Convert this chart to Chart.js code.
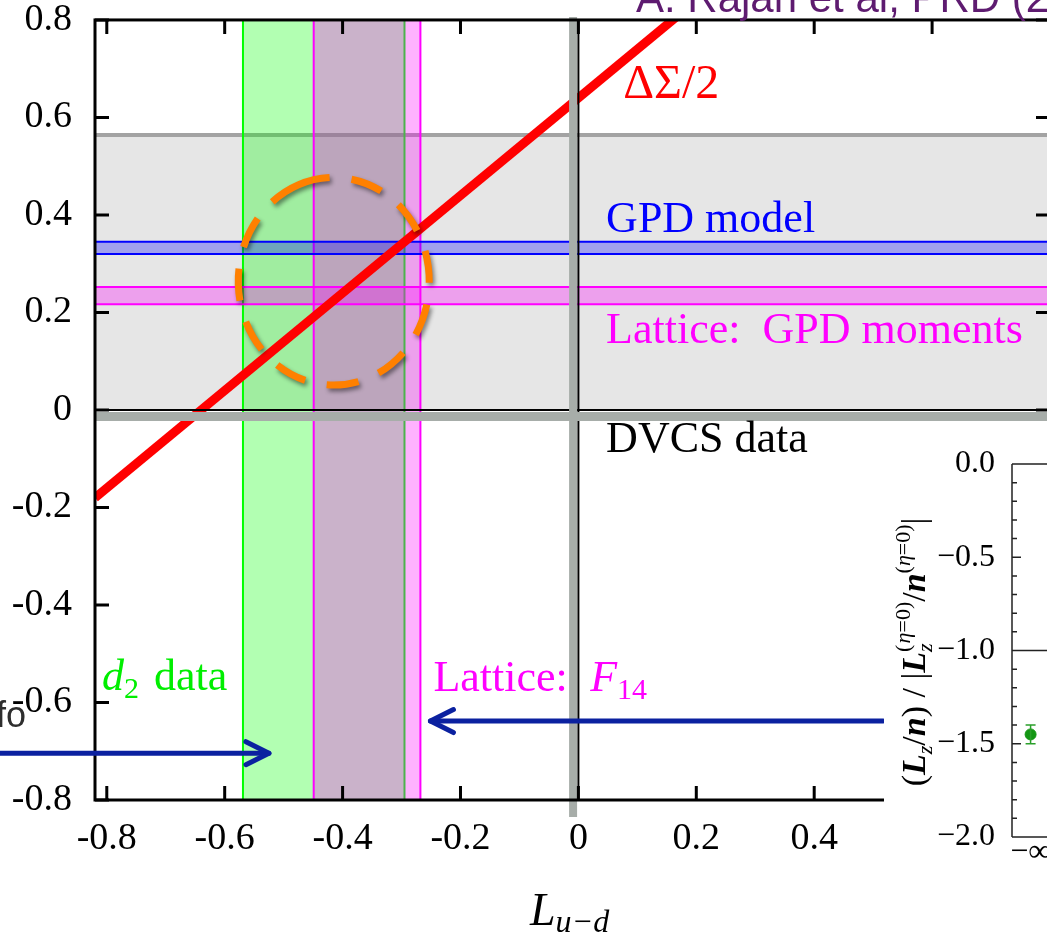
<!DOCTYPE html>
<html><head><meta charset="utf-8">
<script src="https://cdn.jsdelivr.net/npm/chart.js@4.4.1/dist/chart.umd.min.js"></script>
<style>
html,body{margin:0;padding:0;width:1047px;height:936px;overflow:hidden;background:#fff;}
#main{position:absolute;left:0;top:0;}
#insetWrap{position:absolute;left:884px;top:423px;width:220px;height:513px;background:#fff;}
#inset{position:absolute;left:0;top:0;}
</style></head><body>
<canvas id="main" width="1100" height="936"></canvas>
<div id="insetWrap"><canvas id="inset" width="220" height="513"></canvas></div>
<script>
// ---------- data ----------
const xTickValues = [-0.8, -0.6, -0.4, -0.2, 0, 0.2, 0.4];
const xTickLabels = ['-0.8', '-0.6', '-0.4', '-0.2', '0', '0.2', '0.4'];
const yTickValues = [-0.8, -0.6, -0.4, -0.2, 0, 0.2, 0.4, 0.6, 0.8];
const yTickLabels = ['-0.8', '-0.6', '-0.4', '-0.2', '0', '0.2', '0.4', '0.6', '0.8'];
const xRange = [-0.82, 0.8];
const yRange = [-0.8, 0.8];
const deltaSigmaX = [-0.82, 0.2];
const deltaSigmaY = [-0.18, 0.84];
const dvcsBand = [0, 0.564];
const gpdModelBand = [0.320, 0.345];
const latticeGpdBand = [0.217, 0.252];
const d2Band = [-0.569, -0.295];
const latticeF14Band = [-0.449, -0.268];
const crossLineX = -0.009;
const crossLineY = -0.0133;
const focusCenter = [-0.415, 0.264];
const focusRadii = [0.162, 0.213];
const arrowRight = [[-0.98, -0.704], [-0.525, -0.704]];
const arrowLeft = [[0.517, -0.638], [-0.251, -0.638]];
const insetCategories = ['−∞'];
const insetValues = [-1.45];
const insetErrors = [0.05];
const insetTickValues = [0, -0.5, -1, -1.5, -2];
const insetTickLabels = ['0.0', '−0.5', '−1.0', '−1.5', '−2.0'];

// ---------- helpers ----------
const SERIF = '"Liberation Serif", "Times New Roman", serif';
const SANS = '"Liberation Sans", Arial, sans-serif';
const fnt = (size, style) => (style ? style + ' ' : '') + size + 'px ' + SERIF;

function drawRuns(ctx, runs, x, y, measureOnly) {
  let cx = x, pend = 0;
  for (const r of runs) {
    ctx.font = r.f;
    const w = ctx.measureText(r.t).width;
    if (!measureOnly) {
      if (r.c) ctx.fillStyle = r.c;
      ctx.fillText(r.t, cx + (r.dx || 0), y + (r.dy || 0));
    }
    if (r.keep) { pend = Math.max(pend, w); }
    else { cx += Math.max(w, pend); pend = 0; }
  }
  return cx - x;
}

function arrow(ctx, x0, y0, x1, y1, color) {
  ctx.save();
  ctx.strokeStyle = color; ctx.lineWidth = 5; ctx.lineCap = 'round'; ctx.lineJoin = 'round';
  ctx.beginPath(); ctx.moveTo(x0, y0); ctx.lineTo(x1, y1); ctx.stroke();
  const ang = Math.atan2(y1 - y0, x1 - x0);
  const L = 23, H = 11.5;
  const bx = x1 - L * Math.cos(ang), by = y1 - L * Math.sin(ang);
  const nx = -Math.sin(ang), ny = Math.cos(ang);
  ctx.beginPath();
  ctx.moveTo(bx + nx * H, by + ny * H); ctx.lineTo(x1, y1); ctx.lineTo(bx - nx * H, by - ny * H);
  ctx.stroke();
  ctx.restore();
}

// ---------- main chart decoration plugin ----------
const mainDecor = {
  id: 'mainDecor',
  beforeDatasetsDraw(chart) {
    const { ctx, chartArea: a, scales } = chart;
    const X = v => scales.x.getPixelForValue(v), Y = v => scales.y.getPixelForValue(v);
    ctx.save();
    ctx.beginPath(); ctx.rect(a.left, a.top, a.right - a.left, a.bottom - a.top); ctx.clip();
    // DVCS band
    ctx.fillStyle = '#e6e6e6';
    ctx.fillRect(a.left, Y(dvcsBand[1]), a.right - a.left, Y(dvcsBand[0]) - Y(dvcsBand[1]));
    ctx.strokeStyle = '#a3a3a3'; ctx.lineWidth = 4;
    ctx.beginPath(); ctx.moveTo(a.left, Y(dvcsBand[1])); ctx.lineTo(a.right, Y(dvcsBand[1])); ctx.stroke();
    const vband = (b, fill, stroke) => {
      const l = X(b[0]), r = X(b[1]);
      ctx.fillStyle = fill; ctx.fillRect(l, a.top, r - l, a.bottom - a.top);
      ctx.strokeStyle = stroke; ctx.lineWidth = 2;
      ctx.beginPath(); ctx.moveTo(l, a.top); ctx.lineTo(l, a.bottom); ctx.moveTo(r, a.top); ctx.lineTo(r, a.bottom); ctx.stroke();
    };
    const hband = (b, fill, stroke) => {
      const t = Y(b[1]), bt = Y(b[0]);
      ctx.fillStyle = fill; ctx.fillRect(a.left, t, a.right - a.left, bt - t);
      ctx.strokeStyle = stroke; ctx.lineWidth = 2;
      ctx.beginPath(); ctx.moveTo(a.left, t); ctx.lineTo(a.right, t); ctx.moveTo(a.left, bt); ctx.lineTo(a.right, bt); ctx.stroke();
    };
    vband(d2Band, 'rgba(0,255,0,0.3)', '#00ff00');
    vband(latticeF14Band, 'rgba(255,0,255,0.3)', '#ff00ff');
    hband(gpdModelBand, 'rgba(0,0,255,0.3)', '#0000ff');
    hband(latticeGpdBand, 'rgba(255,0,255,0.3)', '#ff00ff');
    ctx.restore();
  },
  afterDatasetsDraw(chart) {
    const { ctx, chartArea: a, scales } = chart;
    const X = v => scales.x.getPixelForValue(v), Y = v => scales.y.getPixelForValue(v);
    ctx.save();
    // zero lines
    ctx.strokeStyle = '#000'; ctx.lineWidth = 2;
    ctx.beginPath();
    ctx.moveTo(X(0), a.top); ctx.lineTo(X(0), a.bottom);
    ctx.moveTo(a.left, Y(0)); ctx.lineTo(a.right, Y(0));
    ctx.stroke();
    // gray cross lines
    ctx.strokeStyle = '#a7ada9';
    ctx.lineWidth = 8;
    ctx.beginPath(); ctx.moveTo(X(crossLineX), a.top - 3); ctx.lineTo(X(crossLineX), a.bottom + 17); ctx.stroke();
    ctx.lineWidth = 9;
    ctx.beginPath(); ctx.moveTo(a.left, Y(crossLineY)); ctx.lineTo(a.right, Y(crossLineY)); ctx.stroke();
    // frame
    ctx.strokeStyle = '#000'; ctx.lineWidth = 3;
    ctx.strokeRect(a.left, a.top, a.right - a.left, a.bottom - a.top);
    // inward ticks
    ctx.lineWidth = 3;
    ctx.beginPath();
    for (const v of xTickValues.concat([0.6])) {
      const p = X(v);
      ctx.moveTo(p, a.bottom); ctx.lineTo(p, a.bottom - 14);
      ctx.moveTo(p, a.top); ctx.lineTo(p, a.top + 14);
    }
    for (const v of yTickValues) {
      const p = Y(v);
      ctx.moveTo(a.left, p); ctx.lineTo(a.left + 14, p);
      ctx.moveTo(a.right, p); ctx.lineTo(a.right - 14, p);
    }
    ctx.stroke();
    // orange dashed ellipse
    ctx.save();
    const cx = X(focusCenter[0]), cy = Y(focusCenter[1]);
    const rx = X(focusCenter[0] + focusRadii[0]) - cx, ry = cy - Y(focusCenter[1] + focusRadii[1]);
    ctx.shadowColor = 'rgba(0,0,0,0.45)'; ctx.shadowBlur = 4; ctx.shadowOffsetX = 2; ctx.shadowOffsetY = 3;
    ctx.strokeStyle = '#ff8000'; ctx.lineWidth = 7; ctx.setLineDash([32, 22]);
    ctx.beginPath(); ctx.ellipse(cx, cy, rx, ry, 0, -Math.PI * 0.62, Math.PI * 1.38); ctx.stroke();
    ctx.restore();
    // arrows
    arrow(ctx, X(arrowRight[0][0]), Y(arrowRight[0][1]), X(arrowRight[1][0]), Y(arrowRight[1][1]), '#0b21a0');
    arrow(ctx, X(arrowLeft[0][0]), Y(arrowLeft[0][1]), X(arrowLeft[1][0]), Y(arrowLeft[1][1]), '#0b21a0');
    // labels
    ctx.textAlign = 'left'; ctx.textBaseline = 'alphabetic';
    ctx.fillStyle = '#ff0000'; ctx.font = fnt(48);
    ctx.fillText('ΔΣ/2', X(0.076), Y(0.640));
    ctx.fillStyle = '#0000ff'; ctx.font = fnt(44);
    ctx.fillText('GPD model', X(0.047), Y(0.365));
    ctx.fillStyle = '#ff00ff';
    ctx.fillText('Lattice:  GPD moments', X(0.047), Y(0.137));
    ctx.fillStyle = '#000';
    ctx.fillText('DVCS data', X(0.047), Y(-0.086));
    // d2 data
    ctx.fillStyle = '#00ee00';
    drawRuns(ctx, [
      { t: 'd', f: fnt(44, 'italic') },
      { t: '2', f: fnt(30), dy: 8 }
    ], X(-0.808), Y(-0.574));
    ctx.font = fnt(44);
    ctx.fillText('data', X(-0.72), Y(-0.574));
    // Lattice: F14
    ctx.fillStyle = '#ff00ff';
    ctx.font = fnt(44);
    ctx.fillText('Lattice:', X(-0.246), Y(-0.576));
    drawRuns(ctx, [
      { t: 'F', f: fnt(44, 'italic') },
      { t: '14', f: fnt(30), dy: 8 }
    ], X(0.02), Y(-0.576));
    // axis title
    ctx.fillStyle = '#000';
    drawRuns(ctx, [
      { t: 'L', f: fnt(46, 'italic') },
      { t: 'u−d', f: fnt(32, 'italic'), dy: 7 }
    ], 530, 925);
    // top citation (cut off)
    ctx.fillStyle = '#5e1b70'; ctx.font = '42px ' + SANS;
    ctx.fillText('A. Rajan et al, PRD (2018)', 636, 12);
    // partial text at left edge
    ctx.fillStyle = '#2e2e2e'; ctx.font = '36px ' + SANS; ctx.textAlign = 'right';
    ctx.fillText('fo', 26, 727);
    ctx.restore();
  }
};

new Chart(document.getElementById('main'), {
  type: 'scatter',
  data: {
    datasets: [{
      label: 'ΔΣ/2',
      data: deltaSigmaX.map((x, i) => ({ x, y: deltaSigmaY[i] })),
      showLine: true,
      borderColor: '#ff0000',
      borderWidth: 9,
      pointRadius: 0,
      clip: 0
    }]
  },
  options: {
    responsive: false,
    animation: false,
    events: [],
    layout: { padding: { top: 0, right: 50, bottom: 0, left: 0 } },
    plugins: { legend: { display: false }, tooltip: { enabled: false }, title: { display: false } },
    scales: {
      x: {
        type: 'linear', min: xRange[0], max: xRange[1],
        afterBuildTicks: s => { s.ticks = xTickValues.map(v => ({ value: v })); },
        afterFit: s => { s.height = 136; },
        ticks: {
          callback: v => xTickLabels[xTickValues.indexOf(v)],
          font: { family: SERIF, size: 38, lineHeight: 1.2 }, color: '#000', padding: 8, maxRotation: 0, autoSkip: false
        },
        grid: { display: false }, border: { display: false }
      },
      y: {
        type: 'linear', min: yRange[0], max: yRange[1],
        afterBuildTicks: s => { s.ticks = yTickValues.map(v => ({ value: v })); },
        afterFit: s => { s.width = 95; },
        ticks: {
          callback: v => yTickLabels[yTickValues.indexOf(v)],
          font: { family: SERIF, size: 38, lineHeight: 1.05 }, color: '#000', padding: 0, autoSkip: false
        },
        grid: { display: true, drawOnChartArea: false, drawTicks: true, tickLength: 23, color: 'rgba(0,0,0,0)' },
        border: { display: false }
      }
    }
  },
  plugins: [mainDecor]
});

// ---------- inset ----------
const insetDecor = {
  id: 'insetDecor',
  afterDatasetsDraw(chart) {
    const { ctx, chartArea: a, scales } = chart;
    const X = v => scales.x.getPixelForValue(v), Y = v => scales.y.getPixelForValue(v);
    ctx.save();
    ctx.strokeStyle = '#222'; ctx.lineWidth = 1.5;
    ctx.beginPath();
    ctx.moveTo(a.left, a.top); ctx.lineTo(a.left, a.bottom);
    ctx.moveTo(a.left, Y(0)); ctx.lineTo(a.right, Y(0));
    ctx.moveTo(a.left, Y(-1)); ctx.lineTo(a.right, Y(-1));
    ctx.moveTo(a.left, Y(-2)); ctx.lineTo(a.right, Y(-2));
    for (let k = 0; k <= 20; k++) {
      const p = Y(-k / 10), len = (k % 5 === 0) ? 9 : 5;
      ctx.moveTo(a.left, p); ctx.lineTo(a.left + len, p);
    }
    ctx.stroke();
    // error bars
    ctx.strokeStyle = '#2a9f2a'; ctx.lineWidth = 1.5;
    ctx.beginPath();
    insetValues.forEach((v, i) => {
      const px = X(i), t = Y(v + insetErrors[i]), b = Y(v - insetErrors[i]);
      ctx.moveTo(px, t); ctx.lineTo(px, b);
      ctx.moveTo(px - 5, t); ctx.lineTo(px + 5, t);
      ctx.moveTo(px - 5, b); ctx.lineTo(px + 5, b);
    });
    ctx.stroke();
    ctx.restore();
    // rotated y title
    const runs = [
      { t: '(', f: fnt(34) },
      { t: 'L', f: fnt(34, 'italic bold') },
      { t: 'z', f: fnt(22, 'italic'), dy: 7 },
      { t: '/', f: fnt(34) },
      { t: 'n', f: fnt(34, 'italic bold') },
      { t: ') / |', f: fnt(34) },
      { t: 'L', f: fnt(34, 'italic bold') },
      { t: 'z', f: fnt(22, 'italic'), dy: 7, keep: true },
      { t: '(', f: fnt(22), dy: -15 },
      { t: 'η', f: fnt(22, 'italic'), dy: -15 },
      { t: '=0)', f: fnt(22), dy: -15 },
      { t: '/', f: fnt(34) },
      { t: 'n', f: fnt(34, 'italic bold') },
      { t: '(', f: fnt(22), dy: -15 },
      { t: 'η', f: fnt(22, 'italic'), dy: -15 },
      { t: '=0)', f: fnt(22), dy: -15 },
      { t: '|', f: fnt(34) }
    ];
    ctx.save();
    ctx.fillStyle = '#000'; ctx.textAlign = 'left'; ctx.textBaseline = 'alphabetic';
    const w = drawRuns(ctx, runs, 0, 0, true);
    ctx.translate(41, 229);
    ctx.rotate(-Math.PI / 2);
    drawRuns(ctx, runs, -w / 2, 0);
    ctx.restore();
  }
};

const insetFont = { family: SERIF, size: 32, lineHeight: 1 };

new Chart(document.getElementById('inset'), {
  type: 'scatter',
  data: {
    datasets: [{
      data: insetValues.map((y, i) => ({ x: i, y })),
      pointRadius: 5.5,
      pointBackgroundColor: '#149614',
      pointBorderColor: '#149614',
      showLine: false
    }]
  },
  options: {
    responsive: false,
    animation: false,
    events: [],
    layout: { padding: { top: 41, right: 0, bottom: 0, left: 0 } },
    plugins: { legend: { display: false }, tooltip: { enabled: false } },
    scales: {
      x: {
        type: 'linear', min: -1, max: 3.6,
        afterBuildTicks: s => { s.ticks = insetCategories.map((c, i) => ({ value: i })); },
        afterFit: s => { s.height = 99; },
        ticks: {
          callback: v => insetCategories[v],
          font: insetFont, color: '#000', padding: -8, maxRotation: 0, autoSkip: false
        },
        grid: { display: false }, border: { display: false }
      },
      y: {
        type: 'linear', min: -2, max: 0,
        afterBuildTicks: s => { s.ticks = insetTickValues.map(v => ({ value: v })); },
        afterFit: s => { s.width = 128; },
        ticks: {
          callback: v => insetTickLabels[insetTickValues.indexOf(v)],
          font: insetFont, color: '#000', padding: 9, autoSkip: false
        },
        grid: { display: false }, border: { display: false }
      }
    }
  },
  plugins: [insetDecor]
});
</script>
</body></html>
